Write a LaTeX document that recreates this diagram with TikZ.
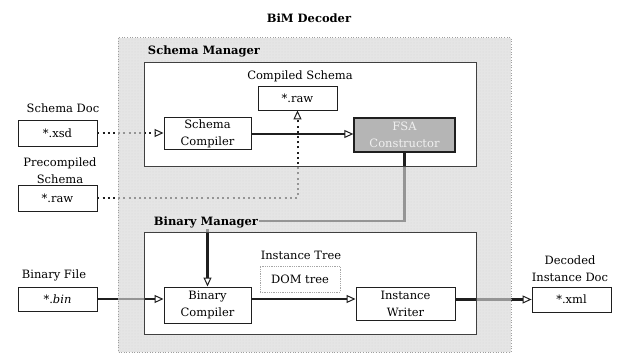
\documentclass[tikz,border=0pt]{standalone}
\usepackage{fontspec}
\setmainfont{DejaVu Serif}
\usetikzlibrary{arrows.meta,patterns}
\pgfdeclarelayer{background}
\pgfsetlayers{background,main}

\definecolor{ringgray}{gray}{0.90}
\definecolor{ink}{gray}{0.12}

\tikzset{
  x=1pt, y=-1pt,
  txt/.style={font=\fontsize{11.5}{13}\selectfont, inner sep=1pt},
  heading/.style={font=\bfseries\fontsize{11.5}{13}\selectfont, inner sep=1pt},
  filebox/.style={draw=ink, line width=0.8pt, fill=white, minimum width=79pt,
    minimum height=25pt, inner sep=0pt, font=\fontsize{11.5}{13}\selectfont},
  procbox/.style={draw=ink, line width=1pt, fill=white, align=center, inner sep=0pt,
    font=\fontsize{11.5}{17}\selectfont},
  flow/.style={draw=ink, line width=2.6pt,
    -{Triangle[open, length=9pt, width=8pt, line width=1pt]}},
  dotflow/.style={draw=ink, line width=2pt, dash pattern=on 2pt off 3.2pt,
    -{Triangle[open, length=9pt, width=8pt, line width=1pt]}},
  mgrbox/.style={draw=ink!85, line width=1pt},
}

\begin{document}
\begin{tikzpicture}
\useasboundingbox (0,0) rectangle (618,358);

% backgrounds of the decoder and its two managers
\begin{pgfonlayer}{background}
  \fill[ringgray] (118,38) rectangle (511,352);
  \fill[pattern=dots, pattern color=gray!45] (118,38) rectangle (511,352);
  \fill[white] (144,63) rectangle (476,167);
  \fill[white] (144,232) rectangle (476,334);
\end{pgfonlayer}

\node[heading] (title) at (309,18) {BiM Decoder};

% external documents
\node[txt] (lxsd) at (63,108) {Schema Doc};
\node[filebox, minimum height=26pt] (xsd) at (57.5,133) {*.xsd};
\node[txt, align=center, font=\fontsize{11.5}{17}\selectfont] (lpre) at (60,171) {Precompiled\\Schema};
\node[filebox, minimum height=26pt] (rawpre) at (57.5,198) {*.raw};
\node[txt] (lbin) at (54,275) {Binary File};
\node[filebox, minimum height=24pt] (bin) at (57.5,299) {*.\textit{bin}};
\node[txt, align=center, font=\fontsize{11.5}{17}\selectfont] (lxml) at (570,269) {Decoded\\Instance Doc};
\node[filebox] (xml) at (571.5,299.5) {*.xml};

% schema manager contents
\node[txt] (lcs) at (300,76) {Compiled Schema};
\node[filebox, minimum height=24pt] (rawc) at (297.5,98) {*.raw};
\node[procbox, minimum width=87pt, minimum height=32pt] (schcomp) at (207.5,134) {Schema\\Compiler};
\node[procbox, minimum width=101pt, minimum height=34pt, fill=gray!58, text=gray!12,
  line width=1.3pt] (fsa) at (404.5,135) {FSA\\Constructor};

% binary manager contents
\node[txt] (lit) at (301,255) {Instance Tree};
\node[draw=gray!70, densely dotted, line width=0.8pt, minimum width=80pt, minimum height=26pt,
  inner sep=0pt, font=\fontsize{11.5}{13}\selectfont] (dom) at (300,279) {DOM tree};
\node[procbox, minimum width=87pt, minimum height=36pt] (bincomp) at (207.5,305) {Binary\\Compiler};
\node[procbox, minimum width=99pt, minimum height=33pt] (instwr) at (405.5,303.5) {Instance\\Writer};

% data flow
\coordinate (bend) at (405,221);
\draw[dotflow] (xsd.east) -- (xsd.east -| schcomp.west);
\draw[dotflow] (rawpre.east) -| (rawc.south);
\draw[flow] (schcomp.east) -- (schcomp.east -| fsa.west);
\draw[flow] (fsa.south) -- (fsa.south |- bend) -- (bincomp.north |- bend) -- (bincomp.north);
\draw[flow] (bin.east) -- (bin.east -| bincomp.west);
\draw[flow] (bincomp.east |- bin.east) -- (instwr.west |- bin.east);
\draw[flow] (instwr.east |- xml.west) -- (xml.west);

% the decoder area lightens whatever crosses it
\fill[ringgray, opacity=0.6, even odd rule]
  (118,38) rectangle (511,352) (144,63) rectangle (476,167) (144,232) rectangle (476,334);

% frames
\draw[gray!75, line width=1pt, dash pattern=on 1pt off 1.6pt] (118,38) rectangle (511,352);
\draw[mgrbox] (144,63) rectangle (476,167);
\draw[mgrbox] (144,232) rectangle (476,334);

\node[heading, fill=ringgray] (lsm) at (204,51) {Schema Manager};
\node[heading, fill=ringgray] (lbm) at (206,222) {Binary Manager};
\end{tikzpicture}
\end{document}
